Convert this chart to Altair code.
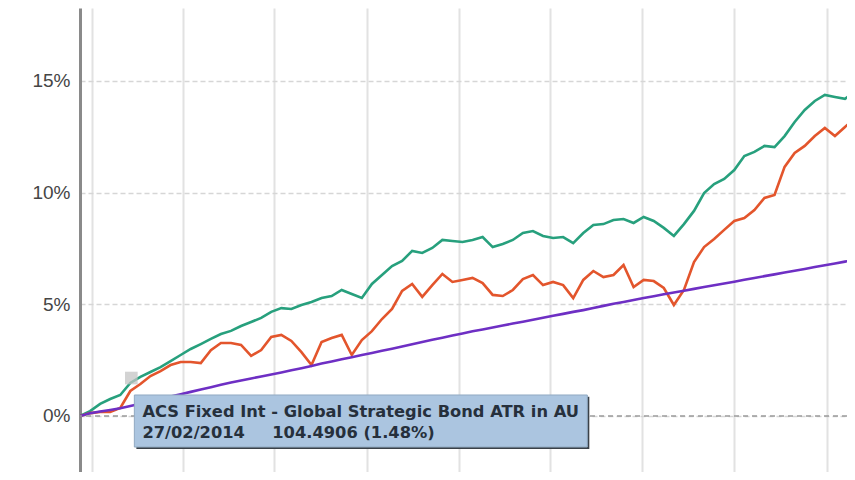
import altair as alt
import pandas as pd

# ---- data (percent change since start) ----
dates = [d.strftime("%Y-%m-%d") for d in pd.date_range("2014-01-03", periods=78, freq="10D")]

green = [0.00, 0.22, 0.54, 0.76, 0.94, 1.48, 1.75, 1.97, 2.19, 2.46,
         2.73, 3.00, 3.22, 3.45, 3.67, 3.81, 4.03, 4.21, 4.39, 4.66,
         4.83, 4.79, 4.97, 5.10, 5.28, 5.37, 5.64, 5.46, 5.28, 5.91,
         6.31, 6.71, 6.94, 7.39, 7.30, 7.52, 7.88, 7.83, 7.79, 7.88,
         8.01, 7.56, 7.70, 7.88, 8.19, 8.28, 8.06, 7.97, 8.01, 7.74,
         8.19, 8.55, 8.59, 8.77, 8.82, 8.64, 8.91, 8.73, 8.42, 8.06,
         8.59, 9.18, 9.98, 10.38, 10.61, 11.01, 11.64, 11.82, 12.09, 12.04,
         12.53, 13.16, 13.70, 14.10, 14.37, 14.28, 14.20, 14.50]

orange = [0.00, 0.13, 0.18, 0.18, 0.36, 1.12, 1.43, 1.79, 2.01, 2.28,
          2.42, 2.42, 2.37, 2.95, 3.27, 3.27, 3.18, 2.69, 2.95, 3.54,
          3.63, 3.36, 2.86, 2.28, 3.31, 3.49, 3.63, 2.73, 3.40, 3.80,
          4.34, 4.79, 5.60, 5.91, 5.33, 5.86, 6.36, 6.00, 6.09, 6.18,
          5.95, 5.42, 5.37, 5.64, 6.13, 6.31, 5.86, 6.00, 5.86, 5.28,
          6.09, 6.49, 6.22, 6.31, 6.76, 5.77, 6.09, 6.04, 5.73, 4.97,
          5.64, 6.89, 7.56, 7.92, 8.33, 8.73, 8.86, 9.22, 9.76, 9.89,
          11.15, 11.77, 12.09, 12.53, 12.89, 12.53, 12.94, 13.34]

purple = [0.00, 0.12, 0.20, 0.27, 0.35, 0.45, 0.55, 0.65, 0.76, 0.87,
          0.97, 1.08, 1.19, 1.29, 1.40, 1.50, 1.59, 1.68, 1.77, 1.86,
          1.95, 2.05, 2.14, 2.24, 2.35, 2.44, 2.54, 2.63, 2.73, 2.82,
          2.92, 3.01, 3.11, 3.21, 3.31, 3.41, 3.50, 3.60, 3.69, 3.79,
          3.87, 3.96, 4.05, 4.14, 4.22, 4.31, 4.40, 4.49, 4.57, 4.66,
          4.74, 4.83, 4.93, 5.02, 5.10, 5.19, 5.28, 5.36, 5.45, 5.53,
          5.61, 5.69, 5.77, 5.85, 5.93, 6.01, 6.10, 6.18, 6.26, 6.34,
          6.42, 6.50, 6.58, 6.67, 6.75, 6.83, 6.91, 6.99]

series_names = ["ACS Fixed Int - Global Strategic Bond ATR in AU", "Peer Group", "Benchmark"]
series_colors = ["#27a07d", "#e3552c", "#6e2fc4"]

grid_dates = ["2014-01-15", "2014-04-15", "2014-07-15", "2014-10-15", "2015-01-15",
              "2015-04-15", "2015-07-15", "2015-10-15", "2016-01-15"]
y_ticks = [0, 5, 10, 15]
Y_MIN, Y_MAX = -2.507, 18.263

tooltip_labels = ["ACS Fixed Int - Global Strategic Bond ATR in AU", "27/02/2014", "104.4906 (1.48%)"]
tooltip_label_dates = ["2014-03-06", "2014-03-06", "2014-07-13"]
tooltip_label_pct = [0.18, -0.76, -0.76]
tooltip_box = {"x": "2014-02-26", "x2": "2015-05-22", "y": 0.94, "y2": -1.39}
tooltip_shadow = {"x": "2014-02-28", "x2": "2015-05-24", "y": 0.86, "y2": -1.48}
marker_date, marker_pct = "2014-02-23", 1.70

# ---- tables ----
rows = []
for name, vals in zip(series_names, [green, orange, purple]):
    for d, v in zip(dates, vals):
        rows.append({"date": d, "pct": v, "series": name})
df = pd.DataFrame(rows)


def dt(s):
    y, m, d = map(int, s.split("-"))
    return alt.DateTime(year=y, month=m, date=d, utc=True)


xscale = alt.Scale(type="utc", domain=[dt("2014-01-03"), dt("2016-02-04")], nice=False)
yscale = alt.Scale(domain=[Y_MIN, Y_MAX], nice=False, zero=False)

x_axis = alt.Axis(values=[dt(s) for s in grid_dates], labels=False, ticks=False, domain=False,
                  grid=True, gridColor="#e2e2e2", gridWidth=2, title=None)
y_axis = alt.Axis(values=y_ticks, labelExpr="datum.value + '%'", ticks=False, labelPadding=10,
                  labelFont="Liberation Sans", labelFontSize=19, labelColor="#454545",
                  domain=True, domainColor="#8a8a8a", domainWidth=3,
                  grid=True, gridColor="#d6d6d6", gridDash=[5, 3], gridWidth=1.5, title=None)


def X(field):
    return alt.X(field, scale=xscale, axis=x_axis)


def Y(field):
    return alt.Y(field, scale=yscale, axis=y_axis)


lines = alt.Chart(df).mark_line(strokeWidth=2.6, clip=True).encode(
    x=X("date:T"),
    y=Y("pct:Q"),
    color=alt.Color("series:N", scale=alt.Scale(domain=series_names, range=series_colors), legend=None),
)

zero = alt.Chart(pd.DataFrame({"pct": [0]})).mark_rule(
    color="#9c9c9c", strokeDash=[5, 4], strokeWidth=1.5
).encode(y=Y("pct:Q"))

marker = alt.Chart(pd.DataFrame({"date": [marker_date], "pct": [marker_pct]})).mark_square(
    size=160, color="#c4c4c4", opacity=0.75
).encode(x=X("date:T"), y=Y("pct:Q"))

shadow = alt.Chart(pd.DataFrame([tooltip_shadow])).mark_rect(color="#3a4148").encode(
    x=X("x:T"), x2="x2:T", y=Y("y:Q"), y2="y2:Q")

box = alt.Chart(pd.DataFrame([tooltip_box])).mark_rect(
    color="#abc5e0", stroke="#90a9c2", strokeWidth=1
).encode(x=X("x:T"), x2="x2:T", y=Y("y:Q"), y2="y2:Q")

text = alt.Chart(pd.DataFrame({"date": tooltip_label_dates, "pct": tooltip_label_pct,
                               "label": tooltip_labels})).mark_text(
    align="left", baseline="middle", font="DejaVu Sans", fontWeight="bold",
    fontSize=16.3, color="#26303c"
).encode(x=X("date:T"), y=Y("pct:Q"), text="label:N")

chart = alt.layer(lines, zero, marker, shadow, box, text).properties(
    width=767, height=464,
    autosize=alt.AutoSizeParams(type="none"),
    padding={"left": 72, "top": 0, "right": 0, "bottom": 0},
    background="white",
).configure_view(stroke=None)

chart.save("out.html", embed_options={"renderer": "svg", "actions": False})
